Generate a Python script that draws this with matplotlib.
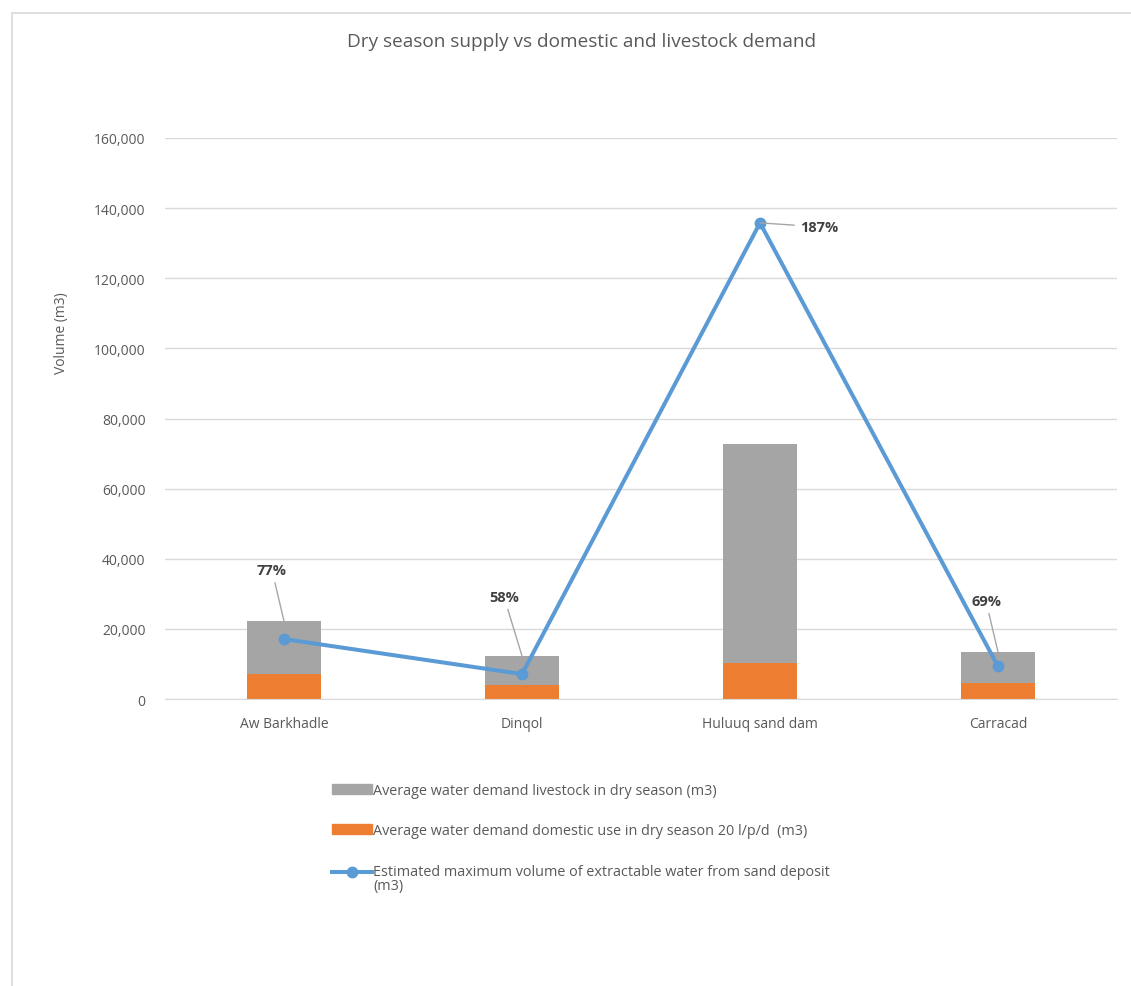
import numpy as np
import matplotlib.pyplot as plt
from matplotlib.patches import Rectangle
from matplotlib.lines import Line2D
from matplotlib.legend_handler import HandlerLine2D
from matplotlib.ticker import FuncFormatter

plt.rcParams['font.family'] = ['Open Sans', 'DejaVu Sans']

# Data (m3)
sites = ["Aw Barkhadle", "Dinqol", "Huluuq sand dam", "Carracad"]
domestic = [7100, 4100, 10300, 4600]
livestock = [15100, 8200, 62500, 8800]
supply = [17100, 7100, 135800, 9300]
pct_labels = ["77%", "58%", "187%", "69%"]
label_offsets = [(-12, 51), (-18, 59), (59, -4), (-12, 51)]  # pixels

label_domestic = "Average water demand domestic use in dry season 20 l/p/d  (m3)"
label_livestock = "Average water demand livestock in dry season (m3)"
label_supply = "Estimated maximum volume of extractable water from sand deposit\n(m3)"

GRAY = "#A5A5A5"
ORANGE = "#ED7D31"
BLUE = "#5B9BD5"
GRID = "#D9D9D9"
TEXT = "#595959"


# legend line handle sits on the first line of a wrapped label, like Excel
class TopLineHandler(HandlerLine2D):
    def create_artists(self, legend, orig_handle, xdescent, ydescent,
                       width, height, fontsize, trans):
        arts = super().create_artists(legend, orig_handle, xdescent, ydescent,
                                      width, height, fontsize, trans)
        for a in arts:
            a.set_ydata(np.asarray(a.get_ydata()) + 0.5 * fontsize)
        return arts


W, H = 1131, 987
fig = plt.figure(figsize=(W / 100, H / 100), dpi=100)

# chart frame like the Excel chart area
fig.patches.append(Rectangle((12 / W, -0.1), 1.2, 1 - 14 / H + 0.1,
                             transform=fig.transFigure, fill=False,
                             edgecolor=GRID, lw=1.2))

ax = fig.add_axes([165 / W, 1 - 700 / H, (1117 - 165) / W, (700 - 139) / H])
x = np.arange(len(sites))
ax.bar(x, domestic, width=0.315, color=ORANGE, zorder=2)
ax.bar(x, livestock, width=0.315, bottom=domestic, color=GRAY, zorder=2)
ax.plot(x, supply, color=BLUE, lw=2.9, marker="o", ms=7.5, zorder=3)

ax.set_xlim(-0.5, len(sites) - 0.5)
ax.set_ylim(0, 160000)
ax.set_yticks(np.arange(0, 160001, 20000))
ax.yaxis.set_major_formatter(FuncFormatter(lambda v, p: f"{v:,.0f}"))
ax.set_xticks(x)
ax.set_xticklabels(sites)
ax.tick_params(length=0, colors=TEXT, labelsize=10)
ax.tick_params(axis="y", pad=14)
ax.tick_params(axis="x", pad=12)
ax.grid(axis="y", color=GRID, lw=1, zorder=0)
ax.set_axisbelow(True)
for s in ["top", "right", "left"]:
    ax.spines[s].set_visible(False)
ax.spines["bottom"].set_color(GRID)

for i in range(len(sites)):
    total = domestic[i] + livestock[i]
    ax.annotate(pct_labels[i], xy=(i, max(total, supply[i])),
                xytext=label_offsets[i], textcoords="offset pixels",
                ha="center", va="center", fontsize=10.5, fontweight="bold",
                color="#404040", zorder=4,
                arrowprops=dict(arrowstyle="-", color="#A6A6A6", lw=1,
                                shrinkA=2, shrinkB=0))

fig.text(62 / W, 1 - 333 / H, "Volume (m3)", rotation=90, ha="center",
         va="center", fontsize=10, color=TEXT)
fig.text(582 / W, 1 - 42 / H, "Dry season supply vs domestic and livestock demand",
         ha="center", va="center", fontsize=13.7, color=TEXT)

supply_handle = Line2D([], [], color=BLUE, lw=2.9, marker="o", ms=7.5)
handles = [Rectangle((0, 0), 1, 1, color=GRAY),
           Rectangle((0, 0), 1, 1, color=ORANGE),
           supply_handle]
leg = fig.legend(handles, [label_livestock, label_domestic, label_supply],
                 loc="upper left", bbox_to_anchor=(319 / W, 1 - 771 / H),
                 frameon=False, fontsize=10.4, labelcolor=TEXT,
                 labelspacing=1.75, handlelength=2.75, handleheight=0.7,
                 handletextpad=0.1,
                 handler_map={supply_handle: TopLineHandler()})
for t in leg.get_texts():
    t.set_linespacing(0.95)

fig.savefig("out.png", dpi=100)
